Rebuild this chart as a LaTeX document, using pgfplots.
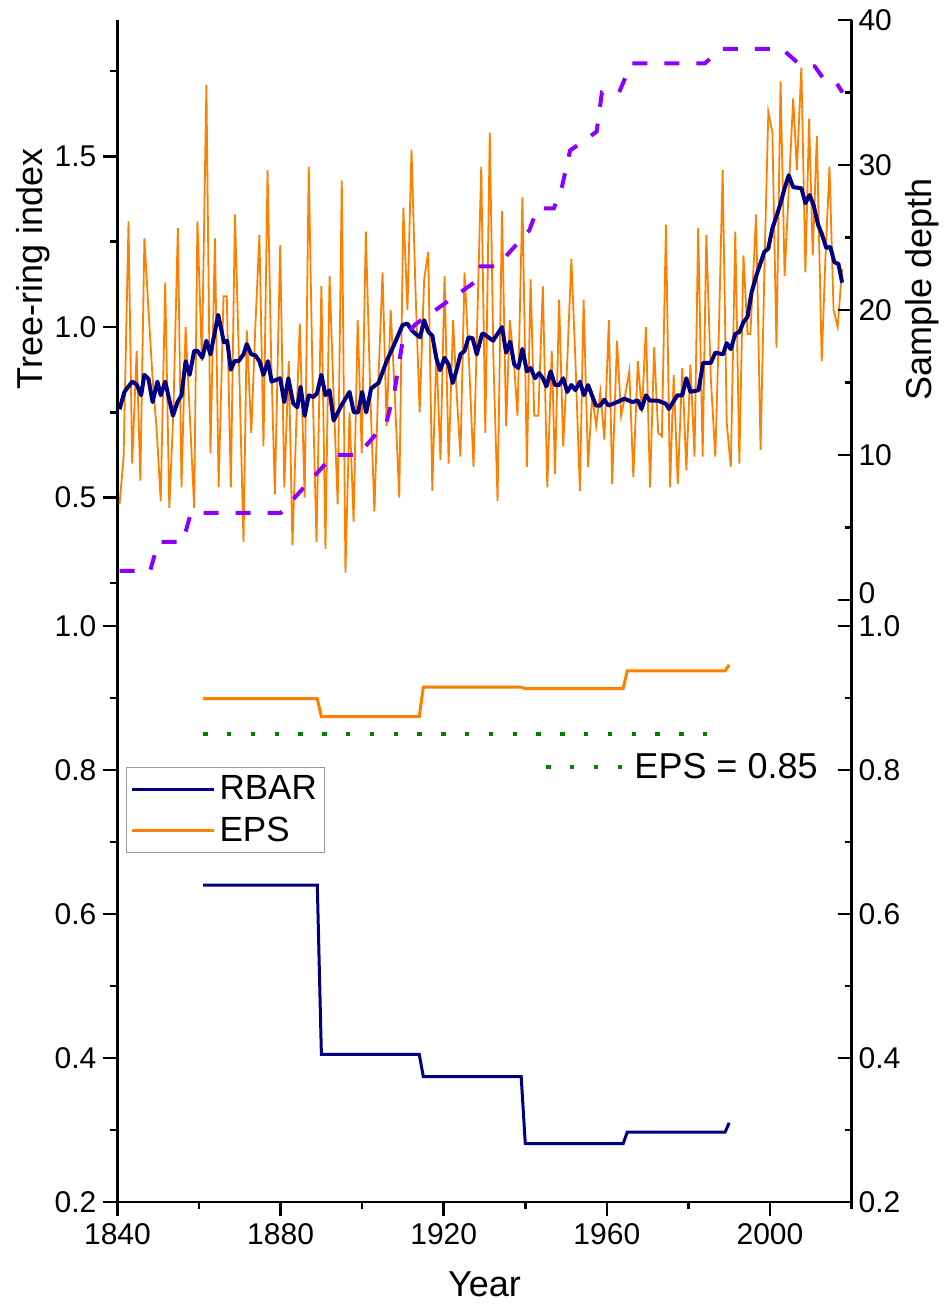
\documentclass[border=0pt]{standalone}
\usepackage{fontspec}
\setmainfont{Liberation Sans}
\usepackage{pgfplots}
\pgfplotsset{compat=1.18}
\usepackage{pgfplotstable}

\definecolor{ringorange}{RGB}{255,128,0}
\definecolor{navyline}{RGB}{0,0,128}
\definecolor{depthpurple}{RGB}{140,0,255}
\definecolor{epsgreen}{RGB}{0,128,0}

\pgfplotstableread{
year val
1840.5 0.48
1841.5 0.62
1842.7 1.31
1843.6 0.60
1844.7 0.93
1845.6 0.55
1846.6 1.26
1847.6 1.05
1848.6 0.85
1849.6 0.70
1850.6 0.49
1851.7 1.13
1852.7 0.47
1853.7 0.75
1854.8 1.29
1855.7 0.53
1856.7 1.00
1857.7 0.75
1858.8 0.47
1859.6 1.31
1860.7 0.90
1861.8 1.71
1862.8 0.63
1863.9 1.26
1864.8 0.53
1866.0 1.09
1866.8 1.09
1867.8 0.53
1868.8 1.33
1869.8 0.90
1870.9 0.37
1871.7 0.99
1872.8 0.69
1873.8 1.00
1874.8 1.27
1875.8 0.65
1876.8 1.46
1877.7 0.90
1878.6 0.51
1879.9 1.24
1880.9 0.53
1882.0 0.90
1882.9 0.36
1883.8 0.70
1884.7 1.01
1885.9 0.50
1886.9 1.47
1887.9 0.80
1888.8 0.37
1890.0 1.12
1891.0 0.35
1892.0 1.15
1893.0 0.80
1894.0 0.48
1895.0 1.43
1895.9 0.28
1896.9 0.75
1897.9 0.43
1898.9 1.02
1899.9 0.63
1900.9 1.28
1902.0 0.80
1903.0 0.46
1904.0 0.85
1905.0 1.16
1906.0 0.71
1907.0 1.05
1908.0 0.80
1909.1 0.50
1910.1 1.35
1911.1 1.05
1912.1 1.52
1913.1 1.10
1914.1 0.75
1915.2 1.14
1916.2 1.22
1917.2 0.52
1918.2 0.93
1919.2 0.61
1920.2 1.15
1921.2 0.60
1922.3 1.02
1923.2 0.80
1924.1 0.62
1925.1 1.16
1926.2 0.90
1927.3 0.59
1928.2 1.00
1929.2 1.47
1930.2 0.69
1931.3 1.57
1932.2 0.90
1933.2 0.49
1934.3 1.34
1935.3 0.71
1936.2 1.02
1937.2 0.90
1938.1 0.74
1939.3 1.38
1940.4 0.59
1941.3 1.14
1942.2 0.74
1943.2 0.74
1944.3 1.12
1945.4 0.53
1946.5 0.93
1947.3 0.57
1948.3 1.08
1949.3 0.65
1950.3 0.90
1951.3 1.20
1952.3 0.90
1953.4 0.52
1954.3 1.08
1955.4 0.59
1956.4 0.80
1957.4 0.71
1958.4 0.81
1959.4 0.67
1960.5 1.02
1961.3 0.54
1962.5 0.96
1963.5 0.74
1964.5 0.80
1965.5 0.87
1966.5 0.56
1967.6 0.90
1968.6 0.75
1969.6 1.00
1970.6 0.53
1971.6 0.94
1972.6 0.69
1973.5 0.68
1974.5 1.30
1975.5 0.53
1976.4 0.86
1977.4 0.54
1978.5 0.88
1979.5 0.58
1980.5 0.89
1981.5 0.62
1982.4 1.29
1983.5 0.62
1984.4 1.27
1985.5 0.85
1986.6 0.62
1987.5 1.00
1988.4 1.46
1989.4 0.72
1990.4 0.59
1991.5 1.28
1992.5 0.60
1993.5 1.21
1994.5 0.98
1995.2 0.98
1996.6 1.33
1997.7 0.64
1998.7 1.20
1999.6 1.63
2000.6 1.57
2001.6 0.94
2002.6 1.72
2003.6 1.15
2004.6 1.40
2005.7 1.67
2006.6 1.46
2007.7 1.76
2008.7 1.16
2009.6 1.61
2010.5 1.21
2011.5 1.56
2012.7 0.90
2013.6 1.20
2014.6 1.47
2015.6 1.05
2016.6 1.00
2017.7 1.17
}\ringdata

\pgfplotstableread{
year val
1840.5 0.759
1841.7 0.81
1843.6 0.84
1844.7 0.832
1845.8 0.80
1846.6 0.86
1847.6 0.848
1848.6 0.78
1849.8 0.84
1850.6 0.80
1851.7 0.84
1853.6 0.74
1854.7 0.78
1855.7 0.80
1856.7 0.90
1857.7 0.86
1858.8 0.93
1859.6 0.93
1860.8 0.91
1861.8 0.96
1862.8 0.92
1864.7 1.036
1866.1 0.955
1866.9 0.96
1867.8 0.875
1868.7 0.90
1869.7 0.90
1870.9 0.92
1871.7 0.95
1872.8 0.92
1873.8 0.917
1874.8 0.90
1875.8 0.86
1876.9 0.90
1877.8 0.84
1879.9 0.85
1880.9 0.78
1881.9 0.85
1883.1 0.776
1884.1 0.765
1884.9 0.825
1885.9 0.74
1886.9 0.80
1888.0 0.795
1888.9 0.805
1890.0 0.86
1891.0 0.80
1892.0 0.815
1893.0 0.726
1894.9 0.77
1896.9 0.81
1897.95 0.75
1899.0 0.75
1900.0 0.81
1901.0 0.75
1902.2 0.82
1904.0 0.836
1906.0 0.90
1907.9 0.95
1909.9 1.006
1911.1 1.01
1912.2 0.99
1913.1 0.98
1914.2 0.97
1915.2 1.02
1916.2 0.986
1917.2 0.975
1918.2 0.908
1919.1 0.873
1920.2 0.91
1921.2 0.89
1922.2 0.836
1923.3 0.88
1924.1 0.92
1925.1 0.93
1926.1 0.97
1927.1 0.967
1928.1 0.92
1929.4 0.98
1929.8 0.98
1932.1 0.96
1934.3 1.00
1935.3 0.925
1936.3 0.957
1937.3 0.89
1938.3 0.88
1939.3 0.936
1940.4 0.87
1941.3 0.88
1942.4 0.85
1943.4 0.865
1944.3 0.85
1945.2 0.826
1946.2 0.87
1947.3 0.83
1948.3 0.83
1949.3 0.85
1950.3 0.81
1951.3 0.83
1952.3 0.815
1953.4 0.84
1954.4 0.80
1955.4 0.83
1957.3 0.77
1958.4 0.77
1959.4 0.787
1960.4 0.77
1962.5 0.78
1964.3 0.79
1966.3 0.78
1967.6 0.785
1968.5 0.76
1969.6 0.80
1970.6 0.784
1972.6 0.784
1974.5 0.775
1975.2 0.76
1977.3 0.80
1978.5 0.80
1979.5 0.85
1980.5 0.81
1982.5 0.815
1983.6 0.895
1985.5 0.895
1986.6 0.925
1988.5 0.92
1989.4 0.953
1990.4 0.935
1991.5 0.98
1992.5 0.985
1993.5 1.014
1994.5 1.03
1995.5 1.102
1996.7 1.152
1998.6 1.22
1999.6 1.23
2000.6 1.29
2001.6 1.324
2002.6 1.363
2003.6 1.407
2004.6 1.445
2005.7 1.41
2007.7 1.407
2008.7 1.363
2009.7 1.387
2010.7 1.358
2011.8 1.30
2012.7 1.274
2013.8 1.232
2014.8 1.235
2015.8 1.19
2016.8 1.185
2017.7 1.13
}\meandata

\pgfplotstableread{
year depth
1840.5 2
1848 2
1850 4
1856 4
1858 6
1880 6
1893 10
1899 10
1906 12.3
1908 14.5
1910 18
1913 19
1918 20
1923 21
1928 22
1929 23
1933 23
1941 25.5
1943 27
1947 27
1949 28.5
1951 31
1957.5 32.3
1958.8 35
1963 35
1966 37
1984 37
1988 38
2003 38
2007 37
2011 36.8
2013 36
2016 35.8
2017.8 35
}\depthdata

\pgfplotstableread{
year val
1861 0.64
1889 0.64
1890 0.405
1914 0.405
1915 0.374
1939 0.374
1940 0.281
1964 0.281
1965 0.297
1989 0.297
1990 0.31
}\rbardata

\pgfplotstableread{
year val
1861 0.899
1889 0.899
1890 0.874
1914 0.874
1915 0.915
1939 0.915
1940 0.913
1964 0.913
1965 0.9375
1989 0.9375
1990 0.946
}\epsdata

\pgfplotsset{
  base/.style={
    scale only axis, width=367pt,
    xmin=1840, xmax=2020,
    axis line style={line width=1.3pt},
    every tick/.style={black, line width=1.3pt},
    major tick length=7pt, minor tick length=3.5pt,
    tick label style={font=\fontsize{15}{15}\selectfont},
    label style={font=\fontsize{18}{18}\selectfont},
    /pgf/number format/assume math mode=true,
  },
  epsdot/.style={epsgreen, line width=2.2pt, dash pattern=on 2.2pt off 9.7pt},
  legimg/.style={legend image code/.code={\draw[##1] (0pt,0pt) -- (41pt,0pt);}},
}

\begin{document}
\begin{tikzpicture}
% ---------- top panel, left axis ----------
\begin{axis}[base, at={(0,301pt)}, anchor=south west, height=290pt,
  ymin=0.2, ymax=1.9, hide x axis, axis y line*=left, tick align=outside,
  ytick={0.5,1.0,1.5}, minor ytick={0.25,0.75,1.25,1.75},
  yticklabel style={/pgf/number format/.cd, fixed, fixed zerofill, precision=1},
  ylabel={Tree-ring index},
  ylabel style={at={(axis description cs:-0.115,0.571)}, anchor=center},
]
\addplot[ringorange, line width=0.9pt] table[x=year,y=val]{\ringdata};
\addplot[navyline, line width=2pt, line join=round] table[x=year,y=val]{\meandata};
\end{axis}
% ---------- top panel, right axis ----------
\begin{axis}[base, at={(0,301pt)}, anchor=south west, height=290pt,
  ymin=0, ymax=40, hide x axis, axis y line*=right, tick align=inside,
  ytick={10,20,30,40}, minor ytick={5,15,25,35},
  extra y ticks={0},
  extra y tick style={yticklabel style={yshift=3.5pt}},
  ylabel={Sample depth},
  ylabel style={at={(axis description cs:1.096,0.536)}, anchor=center},
]
\addplot[depthpurple, line width=2pt, dash pattern=on 7.5pt off 8.5pt] table[x=year,y=depth]{\depthdata};
\end{axis}
% ---------- bottom panel, left axis ----------
\begin{axis}[base, at={(0,0)}, anchor=south west, height=301pt,
  ymin=0.2, ymax=1.036, axis x line*=bottom, axis y line*=left, tick align=outside,
  xtick={1840,1880,1920,1960,2000}, minor xtick={1860,1900,1940,1980,2020},
  xticklabel style={/pgf/number format/set thousands separator={}},
  ytick={0.2,0.4,0.6,0.8,1.0}, minor ytick={0.3,0.5,0.7,0.9},
  yticklabel style={/pgf/number format/.cd, fixed, fixed zerofill, precision=1},
  xlabel={Year},
  xlabel style={at={(axis description cs:0.5,-0.136)}, anchor=center},
  legimg,
  legend style={at={(0.0116,0.7226)}, anchor=north west, draw=gray!80, line width=0.6pt,
    font=\fontsize{17.5}{17.5}\selectfont, inner xsep=2pt, inner ysep=2pt,
    row sep=3pt},
  legend cell align=left,
]
\addplot[navyline, line width=1.5pt] table[x=year,y=val]{\rbardata};
\addlegendentry{RBAR}
\addplot[ringorange, line width=1.5pt] table[x=year,y=val]{\epsdata};
\addlegendentry{EPS}
\addplot[epsdot, forget plot] coordinates {(1861,0.85) (1989,0.85)};
\end{axis}
% ---------- bottom panel, right axis ----------
\begin{axis}[base, at={(0,0)}, anchor=south west, height=301pt,
  ymin=0.2, ymax=1.036, hide x axis, axis y line*=right, tick align=inside,
  ytick={0.2,0.4,0.6,0.8,1.0}, minor ytick={0.3,0.5,0.7,0.9},
  yticklabel style={/pgf/number format/.cd, fixed, fixed zerofill, precision=1},
  legimg,
  legend style={at={(0.968,0.7226)}, anchor=east, draw=none, fill=none,
    font=\fontsize{18}{18}\selectfont},
]
\addlegendimage{epsdot}
\addlegendentry{EPS = 0.85}
\end{axis}
\pgfresetboundingbox
\path (-58.75pt,-52.5pt) rectangle (414.25pt,601pt);
\end{tikzpicture}
\end{document}
